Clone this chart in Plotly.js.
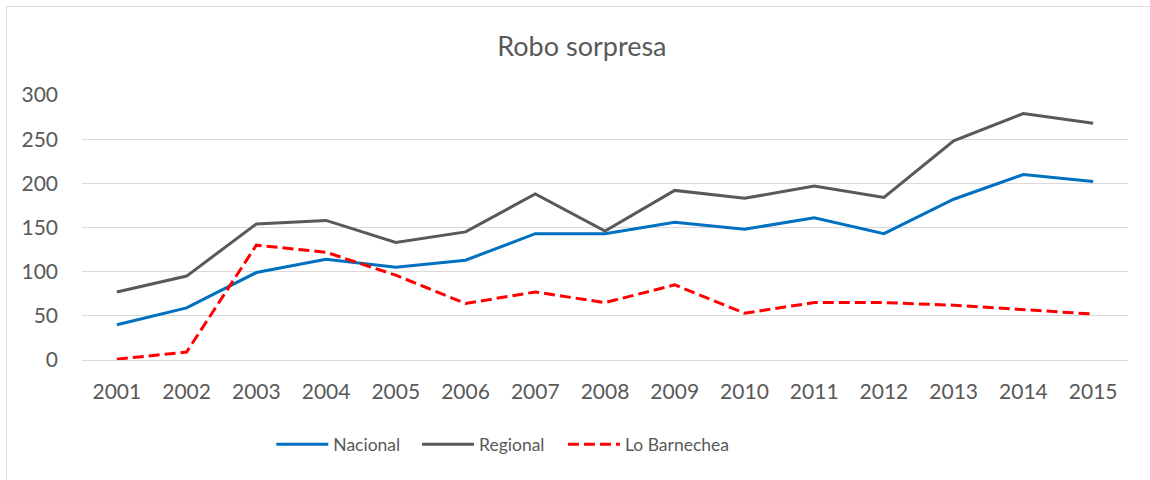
<!DOCTYPE html>
<html>
<head>
<meta charset="utf-8">
<script src="https://cdn.plot.ly/plotly-3.0.1.min.js"></script>
<style>
  html, body { margin: 0; padding: 0; background: #fff; }
  #wrap { position: relative; width: 1150px; height: 480px; overflow: hidden; }
  #chart { width: 1150px; height: 480px; }
  #frame { position: absolute; left: 6px; top: 6px; width: 1200px; height: 600px;
           border-left: 1px solid #d9d9d9; border-top: 1px solid #d9d9d9; pointer-events: none; }
</style>
</head>
<body>
<div id="wrap">
  <div id="chart"></div>
  <div id="frame"></div>
</div>
<script>
const years = ['2001','2002','2003','2004','2005','2006','2007','2008','2009','2010','2011','2012','2013','2014','2015'];
const nacional = [40, 59, 99, 114, 105, 113, 143, 143, 156, 148, 161, 143, 182, 210, 202];
const regional = [77, 95, 154, 158, 133, 145, 188, 146, 192, 183, 197, 184, 248, 279, 268];
const loBarnechea = [1, 9, 130, 122, 96, 64, 77, 65, 85, 53, 65, 65, 62, 57, 52];
const yTicks = [0, 50, 100, 150, 200, 250, 300];

const fontFam = 'Lato, "Open Sans", sans-serif';
const grey = '#595959';

const traces = [
  { x: years, y: nacional, name: 'Nacional', type: 'scatter', mode: 'lines', legend: 'legend',
    line: { color: '#0070C0', width: 3 } },
  { x: years, y: regional, name: 'Regional', type: 'scatter', mode: 'lines', legend: 'legend2',
    line: { color: '#595959', width: 3 } },
  { x: years, y: loBarnechea, name: 'Lo Barnechea', type: 'scatter', mode: 'lines', legend: 'legend3',
    line: { color: '#FF0000', width: 3, dash: '11px,5px' } }
];

function legendAt(x) {
  return {
    orientation: 'h', x: x, xanchor: 'left', y: -0.318, yanchor: 'middle',
    font: { family: fontFam, size: 17.5, color: grey },
    bgcolor: 'rgba(0,0,0,0)', itemwidth: 52
  };
}

const layout = {
  width: 1150, height: 480,
  margin: { l: 82, r: 22, t: 95, b: 119.5 },
  paper_bgcolor: 'rgba(0,0,0,0)',
  plot_bgcolor: 'rgba(0,0,0,0)',
  font: { family: fontFam, color: grey, size: 20 },
  title: { text: 'Robo sorpresa', font: { family: fontFam, size: 27, color: grey },
           xref: 'container', x: 0.506, xanchor: 'center',
           yref: 'container', y: 1 - 47/480, yanchor: 'middle' },
  xaxis: {
    type: 'category', range: [-0.5, 14.5],
    showgrid: false, zeroline: false, showline: false,
    ticks: '', ticklabelstandoff: 17,
    tickfont: { family: fontFam, size: 21, color: grey },
    fixedrange: true
  },
  yaxis: {
    range: [0, 300], tickvals: yTicks, ticktext: yTicks.map(String),
    showgrid: true, gridcolor: '#d9d9d9', gridwidth: 1,
    zeroline: true, zerolinecolor: '#d9d9d9', zerolinewidth: 1,
    showline: false, ticks: '', ticklabelstandoff: 23,
    tickfont: { family: fontFam, size: 21, color: grey },
    fixedrange: true
  },
  showlegend: true,
  legend: legendAt(0.181),
  legend2: legendAt(0.3203),
  legend3: legendAt(0.4598)
};

Plotly.newPlot('chart', traces, layout, { displayModeBar: false, staticPlot: true });
</script>
</body>
</html>
